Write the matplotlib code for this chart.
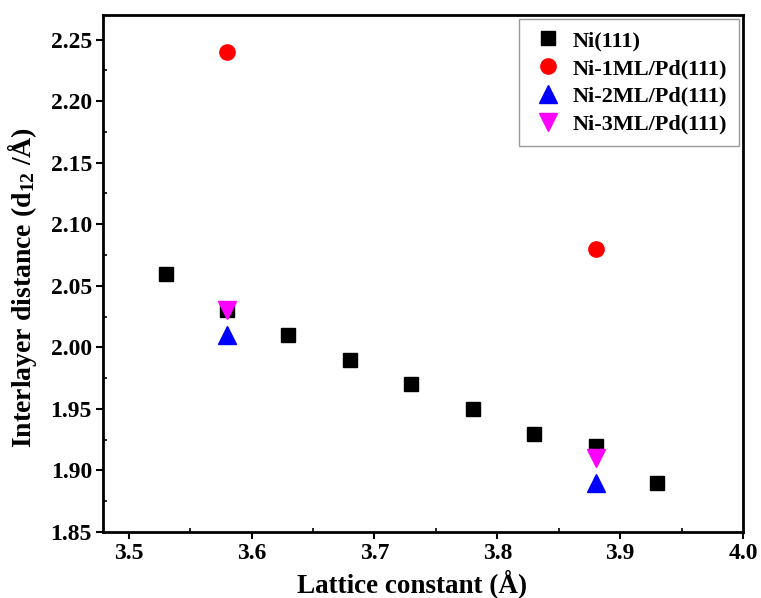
import matplotlib
matplotlib.use("Agg")
import matplotlib.pyplot as plt
from matplotlib.ticker import MultipleLocator

plt.rcParams['font.family'] = ['Liberation Serif', 'DejaVu Serif']
plt.rcParams['font.weight'] = 'bold'
plt.rcParams['mathtext.default'] = 'regular'

ni_x = [3.53, 3.58, 3.63, 3.68, 3.73, 3.78, 3.83, 3.88, 3.93]
ni_y = [2.06, 2.03, 2.01, 1.99, 1.97, 1.95, 1.93, 1.92, 1.89]
ml1_x = [3.58, 3.88]
ml1_y = [2.24, 2.08]
ml2_x = [3.58, 3.88]
ml2_y = [2.01, 1.89]
ml3_x = [3.58, 3.88]
ml3_y = [2.03, 1.91]

fig = plt.figure(figsize=(7.61, 5.98), dpi=100)
ax = fig.add_axes([103/761, 1-532/598, 640/761, 517/598])

ax.plot(ni_x, ni_y, 's', color='black', ms=10.5, ls='none', label='Ni(111)')
ax.plot(ml1_x, ml1_y, 'o', color='red', ms=11, ls='none', label='Ni-1ML/Pd(111)')
ax.plot(ml2_x, ml2_y, '^', color='blue', ms=12.5, ls='none', label='Ni-2ML/Pd(111)')
ax.plot(ml3_x, ml3_y, 'v', color='magenta', ms=12.5, ls='none', label='Ni-3ML/Pd(111)')

ax.set_xlim(3.479, 4.0)
ax.set_ylim(1.85, 2.27)
ax.xaxis.set_major_locator(MultipleLocator(0.1))
ax.xaxis.set_minor_locator(MultipleLocator(0.05))
ax.yaxis.set_major_locator(MultipleLocator(0.05))
ax.yaxis.set_minor_locator(MultipleLocator(0.025))
ax.xaxis.set_major_formatter(matplotlib.ticker.FormatStrFormatter('%.1f'))
ax.yaxis.set_major_formatter(matplotlib.ticker.FormatStrFormatter('%.2f'))
ax.tick_params(which='major', direction='out', length=5, width=1.5, labelsize=17, pad=3)
ax.tick_params(which='minor', direction='in', length=3, width=1.2)
for s in ax.spines.values():
    s.set_linewidth(2)

ax.set_xlabel('Lattice constant (Å)', fontsize=19.5, fontweight='bold')
ax.set_ylabel('Interlayer distance (d$_{12}$ /Å)', fontsize=20, fontweight='bold')
ax.xaxis.set_label_coords(0.483, -0.072)
ax.yaxis.set_label_coords(-0.1, 0.472)

leg = ax.legend(loc='upper right', fontsize=16, frameon=True, fancybox=False,
                edgecolor='gray', borderaxespad=0.2, handletextpad=0.34,
                labelspacing=0.33, borderpad=0.5, handlelength=1.6)
leg.get_frame().set_linewidth(1.0)

fig.savefig('out.png', dpi=100)
